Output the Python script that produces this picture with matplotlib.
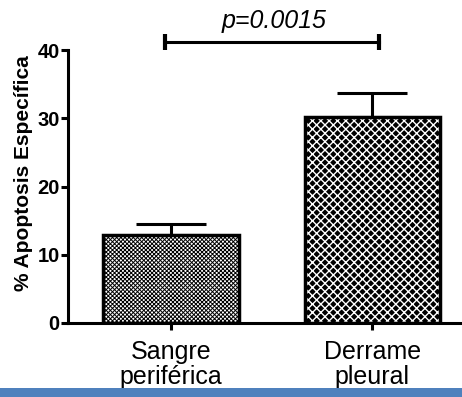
import matplotlib
matplotlib.use("Agg")
import matplotlib.pyplot as plt
from matplotlib.patches import Rectangle

plt.rcParams['font.family'] = ['Liberation Sans', 'DejaVu Sans']

categories = ["Sangre\nperiférica", "Derrame\npleural"]
values = [12.9, 30.2]
errors = [1.6, 3.5]
p_text = "p=0.0015"
y_label = "% Apoptosis Específica"
y_ticks = [0, 10, 20, 30, 40]
sig_y = 41.1

fig = plt.figure(figsize=(4.62, 3.97), dpi=100)
ax = fig.add_axes([68/462, 1-323/397, (461-68)/462, (323-50)/397])

x = list(range(len(categories)))
width = 0.673

# error bars (upper only), behind the bars
ax.errorbar(x, values, yerr=[[0]*len(values), errors], fmt='none', ecolor='black',
            elinewidth=2.2, capsize=25, capthick=2.2, zorder=1)

# bar 1: fine checker hatch
b1 = ax.bar(x[0], values[0], width=width, facecolor='white', edgecolor='black',
            hatch='xxxxxxxx', linewidth=0, zorder=2)
# bar 2: black fill with white crosshatch -> diamonds
b2 = ax.bar(x[1], values[1], width=width, facecolor='black', edgecolor='white',
            hatch='xxxx', linewidth=0, zorder=2)
for p in b1:
    if hasattr(p, 'set_hatch_linewidth'):
        p.set_hatch_linewidth(0.7)
for p in b2:
    if hasattr(p, 'set_hatch_linewidth'):
        p.set_hatch_linewidth(1.0)
# outlines
ax.bar(x, values, width=width, fill=False, edgecolor='black', linewidth=2.5, zorder=3)

ax.set_xlim(-0.51, 1.44)
ax.set_ylim(0, 40)
ax.set_yticks(y_ticks)
ax.set_yticklabels([str(t) for t in y_ticks], fontsize=14.5, fontweight='bold')
ax.set_xticks(x)
ax.set_xticklabels(categories, fontsize=18, linespacing=1.08)

for s in ['top', 'right']:
    ax.spines[s].set_visible(False)
ax.spines['left'].set_linewidth(2.2)
ax.spines['bottom'].set_linewidth(2.2)
ax.tick_params(axis='both', width=2.2, length=5, direction='out', pad=1)
ax.tick_params(axis='x', pad=7)

ax.set_ylabel(y_label, fontsize=15, fontweight='bold')
ax.yaxis.set_label_coords(-0.09, 0.55)

# significance bar
ax.plot([x[0] - 0.03, x[1] + 0.035], [sig_y, sig_y], color='black', lw=2.2,
        clip_on=False, marker='|', markersize=12, markeredgewidth=3.0)
ax.text((x[0] + x[1]) / 2 + 0.01, sig_y + 1.4, p_text, fontsize=18, style='italic',
        ha='center', va='bottom', clip_on=False)

# blue band at the bottom
fig.patches.append(Rectangle((0, 0), 1, 9/397, transform=fig.transFigure,
                             facecolor='#4F81BD', edgecolor='none', zorder=0))

fig.savefig("out.png", dpi=100)
